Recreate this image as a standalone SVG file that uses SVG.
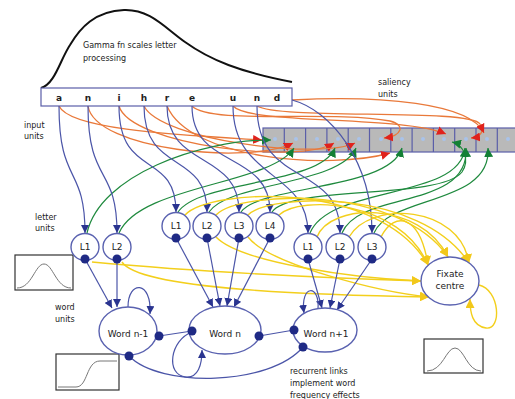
<svg xmlns="http://www.w3.org/2000/svg" width="515" height="399" viewBox="0 0 515 399">
<style>
text{font-family:"DejaVu Sans","Liberation Sans",sans-serif;fill:#222}
.lbl{font-size:8px}
.unit{fill:#fff;stroke:#5a62b0;stroke-width:1.4}
.dot{fill:#1f2a85}
.blue{fill:none;stroke:#4b55a8;stroke-width:1.2;marker-end:url(#ab)}
.bl{fill:none;stroke:#4b55a8;stroke-width:1.2}
.org{fill:none;stroke:#e9793a;stroke-width:1.3;marker-end:url(#ar)}
.grn{fill:none;stroke:#1f8a3e;stroke-width:1.2;marker-end:url(#ag)}
.yel{fill:none;stroke:#f3cf1c;stroke-width:1.4;marker-end:url(#ay)}
.yl{fill:none;stroke:#f3cf1c;stroke-width:1.4}
.ut{font-size:9px;text-anchor:middle}
.box{fill:#fff;stroke:#333;stroke-width:1.2}
.crv{fill:none;stroke:#777;stroke-width:1}
</style>
<defs>
<marker id="ab" viewBox="0 0 10 10" refX="10" refY="5" markerWidth="8" markerHeight="8" markerUnits="userSpaceOnUse" orient="auto"><path d="M0,0L10,5L0,10z" fill="#2a3490"/></marker>
<marker id="ar" viewBox="0 0 10 10" refX="10" refY="5" markerWidth="9" markerHeight="9" markerUnits="userSpaceOnUse" orient="auto"><path d="M0,0L10,5L0,10z" fill="#e0221c"/></marker>
<marker id="ag" viewBox="0 0 10 10" refX="10" refY="5" markerWidth="9" markerHeight="9" markerUnits="userSpaceOnUse" orient="auto"><path d="M0,0L10,5L0,10z" fill="#138035"/></marker>
<marker id="ay" viewBox="0 0 10 10" refX="10" refY="5" markerWidth="9" markerHeight="9" markerUnits="userSpaceOnUse" orient="auto"><path d="M0,0L10,5L0,10z" fill="#f2c81a"/></marker>
</defs>
<rect width="515" height="399" fill="#fff"/>

<g id="gamma">
<path d="M41,88 C55,84 60,60 70,45 C80,28 95,11 124,10 C150,9 165,28 185,42 C210,60 240,72 292,82" fill="none" stroke="#111" stroke-width="2"/>
<text class="lbl" x="83" y="48">Gamma fn scales letter</text>
<text class="lbl" x="83" y="61">processing</text>
</g>

<g id="saliency">
<rect x="263" y="128" width="254" height="24" fill="#b9b9b9" stroke="#5a5ea8" stroke-width="1.2"/>
<g stroke="#5a5ea8" stroke-width="1.2">
<line x1="284.3" y1="128" x2="284.3" y2="152"/><line x1="305.6" y1="128" x2="305.6" y2="152"/><line x1="326.9" y1="128" x2="326.9" y2="152"/><line x1="348.2" y1="128" x2="348.2" y2="152"/><line x1="369.5" y1="128" x2="369.5" y2="152"/><line x1="390.8" y1="128" x2="390.8" y2="152"/><line x1="412.1" y1="128" x2="412.1" y2="152"/><line x1="433.4" y1="128" x2="433.4" y2="152"/><line x1="454.7" y1="128" x2="454.7" y2="152"/><line x1="476" y1="128" x2="476" y2="152"/><line x1="497.3" y1="128" x2="497.3" y2="152"/>
</g>
<g fill="#a9c3ea">
<circle cx="275" cy="139" r="2"/><circle cx="296" cy="139" r="2"/><circle cx="317" cy="139" r="2"/><circle cx="338" cy="139" r="2"/><circle cx="359" cy="139" r="2"/><circle cx="381" cy="139" r="2"/><circle cx="402" cy="139" r="2"/><circle cx="423" cy="139" r="2"/><circle cx="444" cy="139" r="2"/><circle cx="466" cy="139" r="2"/><circle cx="487" cy="139" r="2"/><circle cx="508" cy="139" r="2"/>
</g>
<text class="lbl" x="378" y="85">saliency</text>
<text class="lbl" x="378" y="97">units</text>
</g>

<g id="labels">
<text class="lbl" x="24" y="128">input</text>
<text class="lbl" x="24" y="139">units</text>
<text class="lbl" x="35" y="220">letter</text>
<text class="lbl" x="35" y="231">units</text>
<text class="lbl" x="55" y="310">word</text>
<text class="lbl" x="55" y="322">units</text>
<text class="lbl" x="290" y="374">recurrent links</text>
<text class="lbl" x="290" y="386">implement word</text>
<text class="lbl" x="290" y="398">frequency effects</text>
</g>

<g id="graphs">
<rect class="box" x="15" y="255" width="58" height="35"/>
<path class="crv" d="M17,288 C32,288 35,264 44,264 C53,264 56,288 71,288"/>
<rect class="box" x="56" y="354" width="63" height="36"/>
<path class="crv" d="M58,387 L76,387 C88,387 86,361 100,361 L117,361"/>
<rect class="box" x="424" y="339" width="59" height="34"/>
<path class="crv" d="M427,371 C443,371 446,348 455,348 C464,348 467,371 481,371"/>
</g>

<g id="connectors">
<!-- orange: input to saliency -->
<path class="org" d="M59,106 C70,130 180,135 262,140"/>
<path class="org" d="M88,106 C95,150 250,165 293,143"/>
<path class="org" d="M119,106 C130,145 300,165 334,143"/>
<path class="org" d="M144,106 C160,140 320,160 355,143"/>
<path class="org" d="M167,106 C190,160 330,170 390,153"/>
<path class="org" d="M192,106 C210,125 330,110 390,121 C406,125 402,136 384,138"/>
<path class="org" d="M233,106 C250,125 400,115 446,134"/>
<path class="org" d="M257,106 C280,120 470,108 480,124 C485,132 480,137 471,138"/>
<path class="org" d="M292,100 C380,95 470,103 484,133"/>
<!-- green: letter units to saliency -->
<path class="grn" d="M87,233 C100,175 200,140 271,140"/>
<path class="grn" d="M119,233 C140,185 270,185 294,148"/>
<path class="grn" d="M178,212 C200,180 320,185 335,148"/>
<path class="grn" d="M209,212 C230,182 340,185 356,148"/>
<path class="grn" d="M241,212 C260,185 390,190 402,148"/>
<path class="grn" d="M272,212 C290,185 440,200 462,172 C470,160 464,145 452,142"/>
<path class="grn" d="M310,233 C330,185 460,200 465,148"/>
<path class="grn" d="M342,233 C360,190 470,210 466,148"/>
<path class="grn" d="M374,233 C390,195 492,205 488,148"/>
<!-- blue: input to letter units -->
<path class="blue" d="M59,106 C59,185 85,165 85,233"/>
<path class="blue" d="M88,106 C88,185 117,165 117,233"/>
<path class="blue" d="M119,106 C119,180 176,150 176,212"/>
<path class="blue" d="M144,106 C144,175 207,150 207,212"/>
<path class="blue" d="M167,106 C167,170 239,150 239,212"/>
<path class="blue" d="M192,106 C192,170 270,150 270,212"/>
<path class="blue" d="M233,106 C233,180 308,170 308,233"/>
<path class="blue" d="M257,106 C257,190 340,160 340,233"/>
<path class="blue" d="M292,100 C330,110 372,160 372,233"/>
<!-- yellow: to fixate centre -->
<path class="yel" d="M185,215 C210,188 380,180 428,265"/>
<path class="yel" d="M216,215 C240,190 400,185 448,257"/>
<path class="yel" d="M248,215 C270,193 420,188 469,263"/>
<path class="yel" d="M279,215 C300,195 400,200 428,265"/>
<path class="yel" d="M317,237 C330,203 420,200 448,257"/>
<path class="yel" d="M349,237 C370,200 460,205 469,263"/>
<path class="yel" d="M381,237 C395,210 420,215 428,265"/>
<path class="yel" d="M92,262 C200,272 330,278 421,281"/>
<path class="yel" d="M122,262 C140,290 320,295 429,297"/>
<path class="yel" d="M216,237 C240,262 350,278 421,281"/>
<path class="yel" d="M248,237 C270,265 380,292 429,297"/>
<path class="yel" d="M479,285 C500,290 502,330 486,328 C472,326 470,312 470,299"/>
<!-- blue: letter units to words -->
<path class="blue" d="M85,259 L112,308"/>
<path class="blue" d="M117,259 L117,307"/>
<path class="blue" d="M176,238 L213,307"/>
<path class="blue" d="M207,238 L220,306"/>
<path class="blue" d="M239,238 L227,306"/>
<path class="blue" d="M270,238 L234,307"/>
<path class="blue" d="M308,259 L322,308"/>
<path class="blue" d="M340,259 L330,308"/>
<path class="blue" d="M372,259 L337,310"/>
<!-- word recurrent links -->
<path class="blue" d="M128,307 C128,280 152,280 150,314"/>
<path class="blue" d="M318,309 C320,284 300,284 304,313"/>
<path class="bl" d="M159,336 L192,331"/>
<path class="bl" d="M259,336 L294,330"/>
<path class="bl" d="M129,356 C160,388 270,386 303,347"/>
<path class="blue" d="M192,332 C170,340 165,375 186,377 C198,378 202,365 202,350"/>
</g>

<g id="letters-input">
<rect x="41" y="88" width="251" height="18" fill="#fff" stroke="#5a5ea8" stroke-width="1.2"/>
<g font-size="9" font-weight="bold" text-anchor="middle">
<text x="59" y="101">a</text><text x="88" y="101">n</text><text x="119" y="101">i</text><text x="144" y="101">h</text><text x="167" y="101">r</text><text x="192" y="101">e</text><text x="233" y="101">u</text><text x="257" y="101">n</text><text x="277" y="101">d</text>
</g>
</g>

<g id="g1-L1"><ellipse class="unit" cx="85" cy="247" rx="14" ry="13.5"/><text class="ut" x="85" y="250">L1</text><circle class="dot" cx="85" cy="259" r="4.5"/></g>
<g id="g1-L2"><ellipse class="unit" cx="117" cy="247" rx="14" ry="13.5"/><text class="ut" x="117" y="250">L2</text><circle class="dot" cx="117" cy="259" r="4.5"/></g>
<g id="g2-L1"><ellipse class="unit" cx="176" cy="226" rx="14" ry="13.5"/><text class="ut" x="176" y="229">L1</text><circle class="dot" cx="176" cy="238" r="4.5"/></g>
<g id="g2-L2"><ellipse class="unit" cx="207" cy="226" rx="14" ry="13.5"/><text class="ut" x="207" y="229">L2</text><circle class="dot" cx="207" cy="238" r="4.5"/></g>
<g id="g2-L3"><ellipse class="unit" cx="239" cy="226" rx="14" ry="13.5"/><text class="ut" x="239" y="229">L3</text><circle class="dot" cx="239" cy="238" r="4.5"/></g>
<g id="g2-L4"><ellipse class="unit" cx="270" cy="226" rx="14" ry="13.5"/><text class="ut" x="270" y="229">L4</text><circle class="dot" cx="270" cy="238" r="4.5"/></g>
<g id="g3-L1"><ellipse class="unit" cx="308" cy="247" rx="14" ry="13.5"/><text class="ut" x="308" y="250">L1</text><circle class="dot" cx="308" cy="259" r="4.5"/></g>
<g id="g3-L2"><ellipse class="unit" cx="340" cy="247" rx="14" ry="13.5"/><text class="ut" x="340" y="250">L2</text><circle class="dot" cx="340" cy="259" r="4.5"/></g>
<g id="g3-L3"><ellipse class="unit" cx="372" cy="247" rx="14" ry="13.5"/><text class="ut" x="372" y="250">L3</text><circle class="dot" cx="372" cy="259" r="4.5"/></g>

<g id="fixate"><ellipse class="unit" cx="450" cy="281" rx="29" ry="24"/><text class="ut" x="450" y="277">Fixate</text><text class="ut" x="450" y="289">centre</text></g>

<g id="word-n-1"><ellipse class="unit" cx="128" cy="331" rx="29" ry="24"/><text class="ut" x="128" y="337">Word n-1</text><circle class="dot" cx="159" cy="336" r="4.5"/><circle class="dot" cx="129" cy="356" r="4.5"/></g>
<g id="word-n"><ellipse class="unit" cx="225" cy="330" rx="36" ry="24"/><text class="ut" x="225" y="337">Word n</text><circle class="dot" cx="192" cy="331" r="4.5"/><circle class="dot" cx="259" cy="336" r="4.5"/></g>
<g id="word-n+1"><ellipse class="unit" cx="325" cy="330" rx="32" ry="22"/><text class="ut" x="326" y="337">Word n+1</text><circle class="dot" cx="294" cy="330" r="4.5"/><circle class="dot" cx="303" cy="347" r="4.5"/></g>
</svg>
